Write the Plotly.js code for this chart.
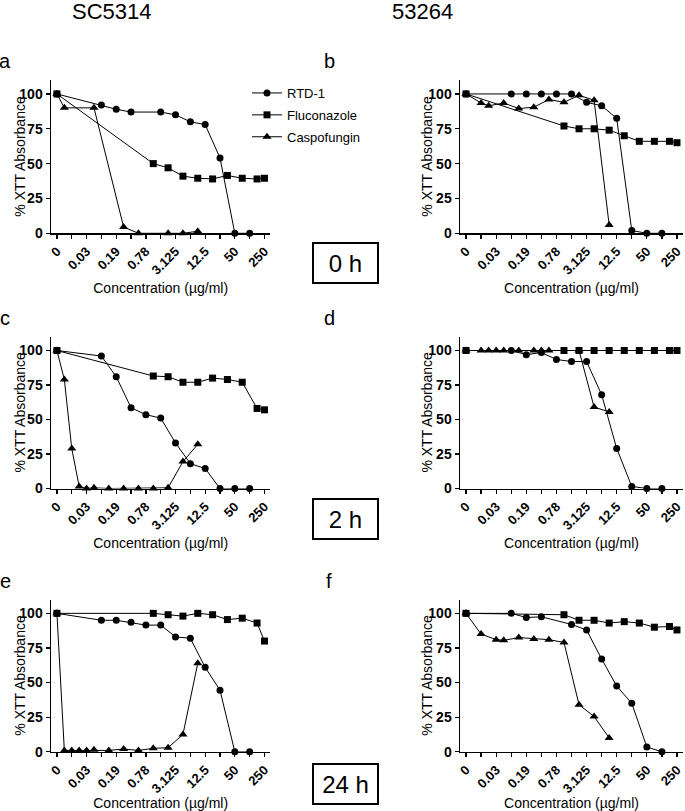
<!DOCTYPE html>
<html><head><meta charset="utf-8">
<script src="https://cdn.plot.ly/plotly-3.0.1.min.js"></script>
<style>html,body{margin:0;padding:0;background:#fff}</style>
</head><body><div id="chart" style="width:685px;height:811px"></div>
<script>
// x values are positions on the plotted concentration scale (one step per labelled tick)
const tickSteps = [0,1,2,3,4,5,6,7];
const tickLabels = ['0','0.03','0.19','0.78','3.125','12.5','50','250'];
const minorSteps = [0.5,1.5,2.5,3.5,4.5,5.5,6.5];
const yTicks = [0,25,50,75,100];

// Panel a: SC5314, 0 h
const a_rtdX = [0,1.5,2,2.5,3.5,4,4.5,5,5.5,6,6.5];
const a_rtdY = [100,92,89,87,87,85,80,78,54,0,0];
const a_fluX = [0,3.25,3.75,4.25,4.75,5.25,5.75,6.25,6.75,7];
const a_fluY = [100,50,47,41,39.5,39,41.5,39.5,39,39.5];
const a_casX = [0,0.25,1.25,2.25,2.75,3.75,4.25,4.75];
const a_casY = [100,90,90,4.5,0,0,0,1.5];

// Panel b: 53264, 0 h
const b_rtdX = [0,1.5,2,2.5,3,3.5,4,4.5,5,5.5,6,6.5];
const b_rtdY = [100,100,100,100,100,100,94,91.5,82.5,2,0,0];
const b_fluX = [0,3.25,3.75,4.25,4.75,5.25,5.75,6.25,6.75,7];
const b_fluY = [100,77,75,75,74,70,66,66,66,65];
const b_casX = [0,0.5,0.75,1.25,1.75,2.25,2.75,3.25,3.75,4.25,4.75];
const b_casY = [100,93.5,91.5,93.5,89.5,90.5,96,94,99,95.5,6];

// Panel c: SC5314, 2 h
const c_rtdX = [0,1.5,2,2.5,3,3.5,4,4.5,5,5.5,6,6.5];
const c_rtdY = [100,96,81,58.5,53.5,51,33,18,14.5,0,0,0];
const c_fluX = [0,3.25,3.75,4.25,4.75,5.25,5.75,6.25,6.75,7];
const c_fluY = [100,81.5,81,77,77,80,79,77,58,57];
const c_casX = [0,0.25,0.5,0.75,1,1.25,1.75,2.25,2.75,3.25,3.75,4.25,4.75];
const c_casY = [100,79,29,1.5,0,0.5,0,0,0,0,0.5,19.5,32];

// Panel d: 53264, 2 h
const d_rtdX = [0,1.5,2,2.5,3,3.5,4,4.5,5,5.5,6,6.5];
const d_rtdY = [100,100,97,98.5,93.5,92,92,68,29,1.5,0,0];
const d_fluX = [0,3.25,3.75,4.25,4.75,5.25,5.75,6.25,6.75,7];
const d_fluY = [100,100,100,100,100,100,100,100,100,100];
const d_casX = [0,0.5,0.75,1,1.25,1.75,2.25,2.5,2.75,3.75,4.25,4.75];
const d_casY = [100,100,100,100,100,100,100,100,100,100,59,55.5];

// Panel e: SC5314, 24 h
const e_rtdX = [0,1.5,2,2.5,3,3.5,4,4.5,5,5.5,6,6.5];
const e_rtdY = [100,95,95,93.5,91.5,91.5,83,82,61,44.5,0,0];
const e_fluX = [0,3.25,3.75,4.25,4.75,5.25,5.75,6.25,6.75,7];
const e_fluY = [100,100,99,98,100,99,95.5,96.5,93,80];
const e_casX = [0,0.25,0.5,0.75,1,1.25,1.75,2.25,2.75,3.25,3.75,4.25,4.75];
const e_casY = [100,1,1,1,1,1.5,1,2,1,2.5,3,12.5,64];

// Panel f: 53264, 24 h
const f_rtdX = [0,1.5,2,2.5,3.5,4,4.5,5,5.5,6,6.5];
const f_rtdY = [100,100,97,97.5,92,88,67,47.5,35,3.5,0];
const f_fluX = [0,3.25,3.75,4.25,4.75,5.25,5.75,6.25,6.75,7];
const f_fluY = [100,99,95,95,93,94,93,90,90.5,88];
const f_casX = [0,0.5,1,1.25,1.75,2.25,2.75,3.25,3.75,4.25,4.75];
const f_casY = [100,85,81,80.5,82.5,81.5,81,79,34,25.5,10];

const seriesNames = ['RTD-1','Fluconazole','Caspofungin'];
const columnTitles = ['SC5314','53264'];
const panelLetters = ['a','b','c','d','e','f'];
const timeLabels = ['0 h','2 h','24 h'];
const yTitle = '% XTT Absorbance';
const xTitle = 'Concentration (µg/ml)';

const panels = [
  [[a_rtdX,a_rtdY],[a_fluX,a_fluY],[a_casX,a_casY]],
  [[b_rtdX,b_rtdY],[b_fluX,b_fluY],[b_casX,b_casY]],
  [[c_rtdX,c_rtdY],[c_fluX,c_fluY],[c_casX,c_casY]],
  [[d_rtdX,d_rtdY],[d_fluX,d_fluY],[d_casX,d_casY]],
  [[e_rtdX,e_rtdY],[e_fluX,e_fluY],[e_casX,e_casY]],
  [[f_rtdX,f_rtdY],[f_fluX,f_fluY],[f_casX,f_casY]]
];

const W = 685, H = 811;
const FONT = 'Liberation Sans, Arial, Helvetica, sans-serif';
const symbols = ['circle','square','triangle-up'];
const sizes = [7,7,8];

const traces = [];
panels.forEach((p, i) => {
  const sfx = i === 0 ? '' : String(i + 1);
  p.forEach((s, k) => {
    traces.push({
      type: 'scatter', mode: 'lines+markers',
      x: s[0], y: s[1], name: seriesNames[k],
      xaxis: 'x' + sfx, yaxis: 'y' + sfx,
      line: {color: '#000', width: 1},
      marker: {symbol: symbols[k], size: sizes[k], color: '#000'},
      cliponaxis: false,
      showlegend: i === 0,
      legendgroup: 'g' + k
    });
  });
});

// plot-area pixel geometry
const colX = [[51, 270.4], [460, 683]];
const rowY = [[80, 233.3], [336.7, 488.5], [599.5, 751.8]];

const bold = s => '<b>' + s + '</b>';

const layout = {
  width: W, height: H,
  margin: {l: 0, r: 0, t: 0, b: 0},
  paper_bgcolor: '#fff', plot_bgcolor: 'rgba(0,0,0,0)',
  font: {family: FONT, color: '#000'},
  showlegend: true,
  legend: {
    x: 247 / W, y: 1 - 78 / H, xanchor: 'left', yanchor: 'top',
    font: {family: FONT, size: 13, color: '#000'},
    bgcolor: 'rgba(0,0,0,0)', traceorder: 'grouped', tracegroupgap: 2
  },
  annotations: [], shapes: []
};

for (let i = 0; i < 6; i++) {
  const sfx = i === 0 ? '' : String(i + 1);
  const col = i % 2, row = Math.floor(i / 2);
  const cx = colX[col], ry = rowY[row];
  layout['xaxis' + sfx] = {
    domain: [cx[0] / W, cx[1] / W],
    anchor: 'y' + sfx,
    range: [-0.2, 7.2],
    tickmode: 'array', tickvals: tickSteps, ticktext: tickLabels.map(bold),
    tickangle: -45,
    tickfont: {family: FONT, size: 13, color: '#000'},
    ticks: 'outside', ticklen: 4, tickwidth: 1.3, tickcolor: '#000',
    minor: {tickvals: minorSteps, ticks: 'outside', ticklen: 4, tickwidth: 1.3, tickcolor: '#000'},
    showline: true, linecolor: '#000', linewidth: 1.5,
    showgrid: false, zeroline: false,
    title: {text: xTitle, font: {family: FONT, size: 14, color: '#000'}}
  };
  layout['yaxis' + sfx] = {
    domain: [1 - ry[1] / H, 1 - ry[0] / H],
    anchor: 'x' + sfx,
    range: [0, 110],
    tickmode: 'array', tickvals: yTicks, ticktext: yTicks.map(v => bold(String(v))),
    tickfont: {family: FONT, size: 14, color: '#000'},
    ticks: 'outside', ticklen: 4, tickwidth: 1.3, tickcolor: '#000',
    showline: true, linecolor: '#000', linewidth: 1.5,
    showgrid: false, zeroline: false
  };
  // y-axis title placed beside the axis
  layout.annotations.push({
    xref: 'paper', yref: 'paper', x: (col === 0 ? 20 : 427) / W, y: 1 - (ry[0] + ry[1]) / 2 / H,
    xanchor: 'center', yanchor: 'middle', showarrow: false, textangle: -90,
    text: yTitle, font: {family: FONT, size: 14, color: '#000'}
  });
  layout.annotations.push({
    xref: 'paper', yref: 'paper', x: (col === 0 ? 5 : 329) / W, y: 1 - (ry[0] - 19) / H,
    xanchor: 'center', yanchor: 'middle', showarrow: false,
    text: panelLetters[i], font: {family: FONT, size: 20, color: '#000'}
  });
}

columnTitles.forEach((t, c) => {
  layout.annotations.push({
    xref: 'paper', yref: 'paper', x: (c === 0 ? 112 : 422) / W, y: 1 - 11 / H,
    xanchor: 'center', yanchor: 'middle', showarrow: false,
    text: t, font: {family: FONT, size: 22, color: '#000'}
  });
});

const boxCenters = [263, 518.5, 784];
timeLabels.forEach((t, r) => {
  layout.annotations.push({
    xref: 'paper', yref: 'paper', x: 345.5 / W, y: 1 - boxCenters[r] / H,
    xanchor: 'center', yanchor: 'middle', showarrow: false,
    text: t, font: {family: FONT, size: 24, color: '#000'},
    width: 60, height: 35, borderpad: 1.5, borderwidth: 2, bordercolor: '#000', bgcolor: '#fff'
  });
});

Plotly.newPlot('chart', traces, layout, {staticPlot: true, displayModeBar: false});
</script>
</body></html>
